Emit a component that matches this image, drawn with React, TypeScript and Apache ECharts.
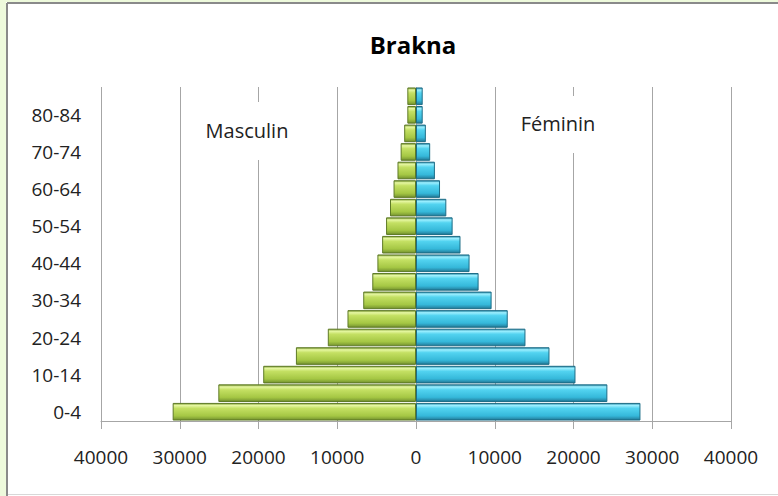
import React, { useEffect, useRef } from "react";
import * as echarts from "echarts";

const categories = ["0-4", "5-9", "10-14", "15-19", "20-24", "25-29", "30-34", "35-39", "40-44", "45-49", "50-54", "55-59", "60-64", "65-69", "70-74", "75-79", "80-84", "85+"];
const male = [30900, 25100, 19400, 15250, 11200, 8700, 6700, 5550, 4900, 4300, 3800, 3300, 2850, 2350, 1950, 1500, 1100, 1100];
const female = [28500, 24300, 20250, 16950, 13900, 11650, 9600, 7950, 6800, 5650, 4650, 3850, 3050, 2400, 1800, 1250, 850, 850];
const xTicks = { min: -40000, max: 40000, interval: 10000 };
const title = "Brakna";
const seriesNames = ["Masculin", "Féminin"];

const FONT = "'Open Sans', 'Noto Sans', sans-serif";

export default function App() {
  const ref = useRef<HTMLDivElement>(null);
  useEffect(() => {
    if (!ref.current) return;
    const chart = echarts.init(ref.current, undefined, { renderer: "svg" });
    const greenGrad = new echarts.graphic.LinearGradient(0, 0, 0, 1, [
      { offset: 0, color: "#7f9d35" },
      { offset: 0.12, color: "#e6f7a2" },
      { offset: 0.3, color: "#c4e063" },
      { offset: 0.75, color: "#a5c744" },
      { offset: 0.9, color: "#88a838" },
      { offset: 1, color: "#6d8a2c" },
    ]);
    const blueGrad = new echarts.graphic.LinearGradient(0, 0, 0, 1, [
      { offset: 0, color: "#2a8aa8" },
      { offset: 0.12, color: "#9cefff" },
      { offset: 0.3, color: "#52d3f0" },
      { offset: 0.75, color: "#35b8da" },
      { offset: 0.9, color: "#2a93b3" },
      { offset: 1, color: "#1f7390" },
    ]);
    chart.setOption({
      animation: false,
      grid: { left: 101, right: 47, top: 87, bottom: 75 },
      xAxis: {
        type: "value",
        min: xTicks.min,
        max: xTicks.max,
        interval: xTicks.interval,
        axisLine: { show: true, onZero: false, lineStyle: { color: "#a6a6a6", width: 1 } },
        axisTick: { show: true, length: 8, lineStyle: { color: "#a6a6a6" } },
        splitLine: { show: true, lineStyle: { color: "#a6a6a6", width: 1 } },
        axisLabel: {
          margin: 26,
          color: "#222",
          fontFamily: FONT,
          fontSize: 19,
          formatter: (v: number) => String(Math.abs(v)),
        },
      },
      yAxis: {
        type: "category",
        data: categories,
        axisLine: { show: false },
        axisTick: { show: false },
        axisLabel: {
          interval: 1,
          margin: 20,
          color: "#222",
          fontFamily: FONT,
          fontSize: 19,
        },
      },
      series: [
        {
          name: seriesNames[0],
          type: "bar",
          stack: "pop",
          barCategoryGap: "5%",
          data: male.map((v) => -v),
          itemStyle: { color: greenGrad, borderColor: "#5e7a26", borderWidth: 1 },
        },
        {
          name: seriesNames[1],
          type: "bar",
          stack: "pop",
          barCategoryGap: "5%",
          data: female,
          itemStyle: { color: blueGrad, borderColor: "#1d6d87", borderWidth: 1 },
        },
      ],
      graphic: [
        { type: "rect", z: 100, shape: { x: 0, y: 0, width: 6, height: 496 }, style: { fill: "#eefadc" } },
        { type: "rect", z: 100, shape: { x: 0, y: 0, width: 778, height: 2 }, style: { fill: "#eefadc" } },
        { type: "line", z: 100, shape: { x1: 7, y1: 3, x2: 778, y2: 3 }, style: { stroke: "#8a8a8a", lineWidth: 2 } },
        { type: "line", z: 100, shape: { x1: 7, y1: 3, x2: 7, y2: 496 }, style: { stroke: "#8a8a8a", lineWidth: 2 } },
        { type: "line", z: 100, shape: { x1: 8, y1: 494.5, x2: 778, y2: 494.5 }, style: { stroke: "#d8d8d8", lineWidth: 1 } },
        {
          type: "text",
          z: 100,
          x: 413,
          y: 44,
          style: { text: title, font: `bold 24px ${FONT}`, fill: "#000", textAlign: "center", textVerticalAlign: "middle" },
        },
        { type: "rect", z: 90, shape: { x: 198, y: 102, width: 100, height: 58 }, style: { fill: "#fff" } },
        {
          type: "text",
          z: 100,
          x: 247,
          y: 130,
          style: { text: seriesNames[0], font: `20px ${FONT}`, fill: "#222", textAlign: "center", textVerticalAlign: "middle" },
        },
        { type: "rect", z: 90, shape: { x: 512, y: 96, width: 94, height: 57 }, style: { fill: "#fff" } },
        {
          type: "text",
          z: 100,
          x: 558,
          y: 123,
          style: { text: seriesNames[1], font: `20px ${FONT}`, fill: "#222", textAlign: "center", textVerticalAlign: "middle" },
        },
      ],
    });
    return () => chart.dispose();
  }, []);
  return (
    <div
      ref={ref}
      style={{ position: "fixed", left: 0, top: 0, width: 778, height: 496, background: "#fff" }}
    />
  );
}
